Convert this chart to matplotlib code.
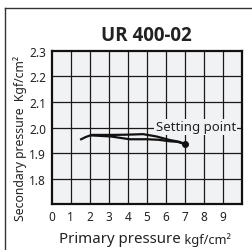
import matplotlib.pyplot as plt
from matplotlib.lines import Line2D

plt.rcParams['font.family'] = ['Noto Sans', 'DejaVu Sans']

# curve going up / coming back (hysteresis)
upper_x = [1.55, 1.8, 2.1, 2.6, 3.2, 4.0, 4.8, 5.5, 6.2, 6.7, 7.0]
upper_y = [1.954, 1.963, 1.971, 1.971, 1.971, 1.972, 1.974, 1.965, 1.951, 1.944, 1.935]
lower_x = [2.1, 3.1, 4.1, 5.0, 5.6, 6.2, 6.6, 7.0]
lower_y = [1.969, 1.965, 1.954, 1.954, 1.952, 1.946, 1.944, 1.935]
setting_point = (7.0, 1.935)

x_ticks = [0, 1, 2, 3, 4, 5, 6, 7, 8, 9]
y_ticks = [1.8, 1.9, 2.0, 2.1, 2.2, 2.3]

fig = plt.figure(figsize=(2.53, 2.51), dpi=100)
ax = fig.add_axes([0.204, 0.183, 0.753, 0.610])
ax.set_facecolor('#f1f2f4')

# grid
for gx in range(1, 10):
    ax.axvline(gx, color='#1a1a1a', lw=0.9, zorder=1)
for gy in [1.8, 1.9, 2.0, 2.1, 2.2]:
    ax.axhline(gy, color='#1a1a1a', lw=0.9, zorder=1)

ax.plot(upper_x, upper_y, color='#111111', lw=1.6, zorder=3)
ax.plot(lower_x, lower_y, color='#111111', lw=1.6, zorder=3)
ax.plot(*setting_point, 'o', color='#111111', ms=4, zorder=4)

ax.text(7.56, 2.003, 'Setting point', fontsize=9.5, ha='center', va='center',
        color='#222222', zorder=2,
        bbox=dict(facecolor='#f1f2f4', edgecolor='none', pad=1.0))

ax.set_xlim(0, 10)
ax.set_ylim(1.7, 2.3)
ax.set_xticks(x_ticks)
ax.set_yticks(y_ticks)
ax.set_yticklabels(['1.8', '1.9', '2.0', '2.1', '2.2', '2.3'])
ax.tick_params(length=0, labelsize=8.5, colors='#222222', pad=4)
for s in ax.spines.values():
    s.set_linewidth(1.6)
    s.set_color('#111111')

ax.set_title('UR 400-02', fontsize=13.5, fontweight='bold', color='#222222', pad=8,
             family=['Open Sans', 'DejaVu Sans'])

t1 = fig.text(0.233, 0.030, 'Primary pressure', fontsize=10.8, color='#222222')
ax.annotate(' kgf/cm²', xy=(1, 0), xycoords=t1, fontsize=9.2, color='#222222',
            va='bottom')
fig.text(0.079, 0.45, 'Secondary pressure  Kgf/cm²', fontsize=8.8, rotation=90,
         ha='center', va='center', color='#222222')

# outer frame
fig.add_artist(Line2D([0.018, 0.018], [0, 0.966], transform=fig.transFigure,
                      color='#333333', lw=1))
fig.add_artist(Line2D([0.018, 1], [0.966, 0.966], transform=fig.transFigure,
                      color='#333333', lw=1))

fig.savefig('out.png', dpi=100)
